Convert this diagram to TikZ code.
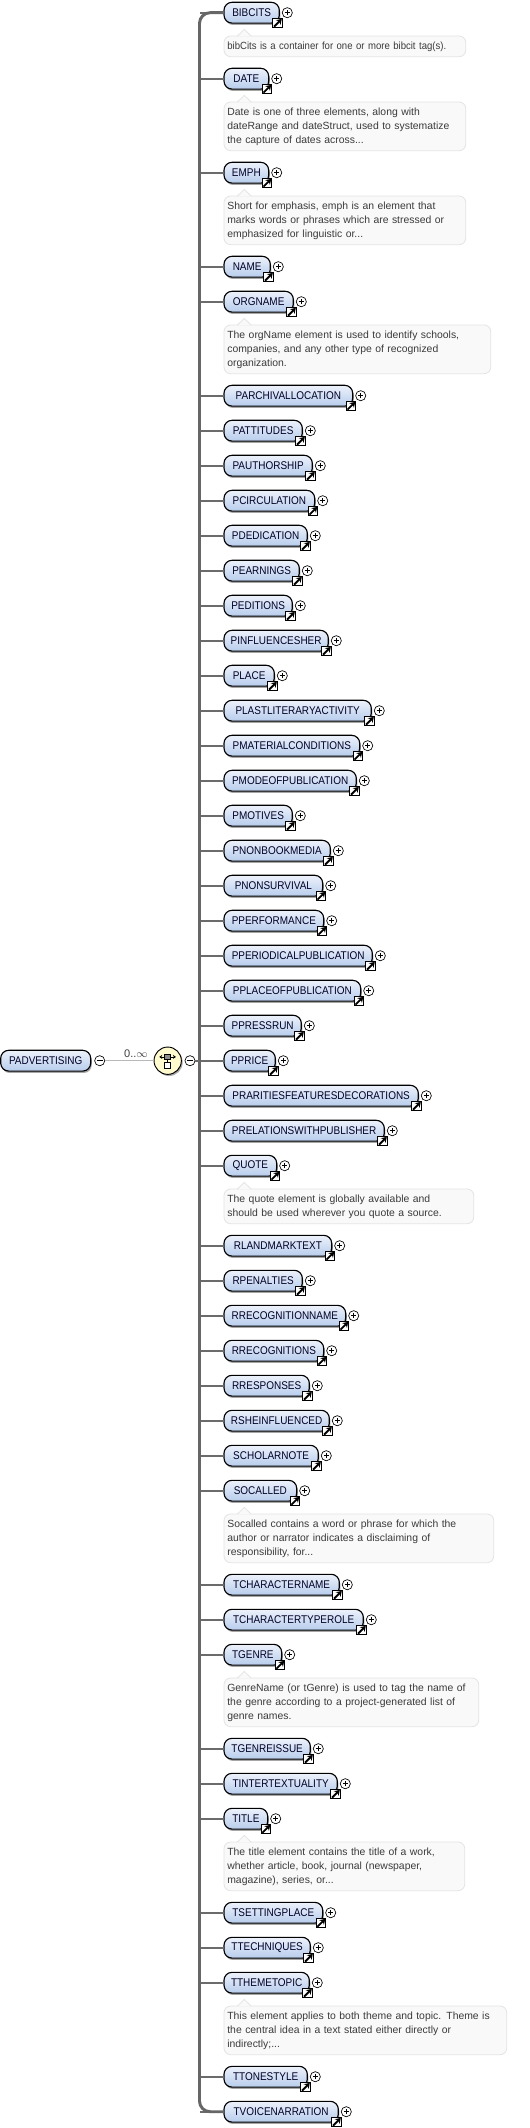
\documentclass[tikz,border=0pt]{standalone}
\usepackage{fontspec}
\setmainfont{Liberation Sans}
\newfontfamily\elemfont[FakeStretch=0.89]{Liberation Sans}
\newfontfamily\narrowfont[FakeStretch=0.92]{Liberation Sans}
\usetikzlibrary{arrows.meta,shadows}
\definecolor{boxtop}{HTML}{EDF2FB}
\definecolor{boxbot}{HTML}{B7CCEC}
\definecolor{docfill}{HTML}{F9F9F9}
\definecolor{docline}{HTML}{E4E4E4}
\definecolor{doctext}{HTML}{3A3A3A}
\definecolor{seqfill}{HTML}{FFFBCF}
\tikzset{
  elembox/.style={draw=black,line width=0.85pt,rounded corners=6pt,top color=boxtop,bottom color=boxbot,
    minimum height=15.6pt,inner sep=0pt,outer sep=0pt,anchor=west,text=black!85!blue,
    font=\elemfont\fontsize{8.4}{10}\selectfont,
    drop shadow={shadow xshift=0.8pt,shadow yshift=-1.4pt,fill=black,opacity=0.35}},
  linkicon/.style={draw=black,line width=0.7pt,fill=white,minimum size=7.2pt,inner sep=0pt},
  linkarrow/.style={line width=1.4pt,-{Stealth[length=3.8pt,width=5pt]}},
  btn/.style={circle,draw=black,line width=0.5pt,fill=white,minimum size=7.6pt,inner sep=0pt},
  plusbtn/.style={btn,path picture={
    \draw[line width=0.5pt] ([xshift=-2pt]path picture bounding box.center)--([xshift=2pt]path picture bounding box.center);
    \draw[line width=0.5pt] ([yshift=-2pt]path picture bounding box.center)--([yshift=2pt]path picture bounding box.center);}},
  minusbtn/.style={btn,path picture={
    \draw[line width=0.5pt] ([xshift=-2.2pt]path picture bounding box.center)--([xshift=2.2pt]path picture bounding box.center);}},
  docbox/.style={draw=docline,fill=docfill,line width=0.6pt,rounded corners=5pt,anchor=north west,
    inner xsep=2.5pt,inner ysep=2.5pt,outer sep=0pt,align=left,text=doctext,
    font=\fontsize{7.8}{10.5}\selectfont,execute at begin node=\strut,execute at end node=\strut},
  branch/.style={draw=black!58,line width=1.5pt},
  trunk/.style={draw=black!60,line width=2.2pt,rounded corners=8pt},
  thinline/.style={draw=black!28,line width=0.7pt},
  seqbox/.style={draw=black,line width=0.5pt,minimum width=4.6pt,minimum height=3.8pt,inner sep=0pt},
}
% name, y, width, label
\newcommand{\elem}[4]{
  \node[elembox,minimum width=#3*0.75pt] (#1) at (224,#2) {#4};
  \node[linkicon] (#1link) at ({224+#3-1.6},{#2+10.3}) {};
  \draw[linkarrow] ([xshift=1.2pt,yshift=1.2pt]#1link.south west)--([xshift=-0.9pt,yshift=-0.9pt]#1link.north east);
  \node[plusbtn] (#1plus) at ({224+#3+8},#2) {};
  \draw[branch] (#1.west)--(#1.west -| trunktop);
}
% name, y of the element, width, text
\newcommand{\docnote}[4]{
  \node[docbox,text width={(#3-6.6)*0.75pt}] (#1doc) at (224,{#2+23.3}) {#4};
  \fill[docfill] (237.5,{#2+23.6})--(244.3,{#2+16.7})--(251,{#2+23.6})--cycle;
  \draw[docline,line width=0.6pt] (237.5,{#2+23.3})--(244.3,{#2+16.7})--(251,{#2+23.3});
}
\begin{document}
\begin{tikzpicture}[x=0.75pt,y=-0.75pt]
  \useasboundingbox (0,0) rectangle (530,2128);
  \fill[white] (0,0) rectangle (530,2128);
  \coordinate (trunktop) at (199.5,12.7);
  \coordinate (trunkbot) at (199.5,2111.7);

  \elem{bibcits}{12.7}{55.3}{BIBCITS}
  \docnote{bibcits}{12.7}{241.7}{\narrowfont bibCits is a container for one or more bibcit tag(s).}
  \elem{date}{78.7}{44.7}{DATE}
  \docnote{date}{78.7}{241.7}{Date is one of three elements, along with\\dateRange and dateStruct, used to systematize\\the capture of dates across...}
  \elem{emph}{172.7}{44.7}{EMPH}
  \docnote{emph}{172.7}{241.7}{Short for emphasis, emph is an element that\\marks words or phrases which are stressed or\\emphasized for linguistic or...}
  \elem{name}{266.7}{46.3}{NAME}
  \elem{orgname}{301.7}{69.3}{ORGNAME}
  \docnote{orgname}{301.7}{266.7}{The orgName element is used to identify schools,\\companies, and any other type of recognized\\organization.}
  \elem{parchival}{395.7}{128.7}{PARCHIVALLOCATION}
  \elem{pattitudes}{430.7}{78.3}{PATTITUDES}
  \elem{pauthorship}{465.7}{88.3}{PAUTHORSHIP}
  \elem{pcirculation}{500.7}{90.7}{PCIRCULATION}
  \elem{pdedication}{535.7}{83.3}{PDEDICATION}
  \elem{pearnings}{570.7}{75.3}{PEARNINGS}
  \elem{peditions}{605.7}{68.3}{PEDITIONS}
  \elem{pinfluences}{640.7}{104.3}{PINFLUENCESHER}
  \elem{place}{675.7}{50.3}{PLACE}
  \elem{plastliterary}{710.7}{147.3}{PLASTLITERARYACTIVITY}
  \elem{pmaterial}{745.7}{135.7}{PMATERIALCONDITIONS}
  \elem{pmode}{780.7}{132.3}{PMODEOFPUBLICATION}
  \elem{pmotives}{815.7}{68.3}{PMOTIVES}
  \elem{pnonbook}{850.7}{106.3}{PNONBOOKMEDIA}
  \elem{pnonsurvival}{885.7}{98.7}{PNONSURVIVAL}
  \elem{pperformance}{920.7}{99.7}{PPERFORMANCE}
  \elem{pperiodical}{955.7}{148.3}{PPERIODICALPUBLICATION}
  \elem{pplaceof}{990.7}{136.7}{PPLACEOFPUBLICATION}
  \elem{ppressrun}{1025.7}{77.3}{PPRESSRUN}
  \elem{pprice}{1060.7}{51.3}{PPRICE}
  \elem{prarities}{1095.7}{194.3}{PRARITIESFEATURESDECORATIONS}
  \elem{prelations}{1130.7}{160.3}{PRELATIONSWITHPUBLISHER}
  \elem{quote}{1165.7}{52.7}{QUOTE}
  \docnote{quote}{1165.7}{249.7}{The quote element is globally available and\\should be used wherever you quote a source.}
  \elem{rlandmark}{1245.7}{107.7}{RLANDMARKTEXT}
  \elem{rpenalties}{1280.7}{78.3}{RPENALTIES}
  \elem{rrecogname}{1315.7}{121.7}{RRECOGNITIONNAME}
  \elem{rrecog}{1350.7}{99.7}{RRECOGNITIONS}
  \elem{rresponses}{1385.7}{85.3}{RRESPONSES}
  \elem{rshe}{1420.7}{105.3}{RSHEINFLUENCED}
  \elem{scholarnote}{1455.7}{94.3}{SCHOLARNOTE}
  \elem{socalled}{1490.7}{72.7}{SOCALLED}
  \docnote{socalled}{1490.7}{269.7}{Socalled contains a word or phrase for which the\\author or narrator indicates a disclaiming of\\responsibility, for...}
  \elem{tcharname}{1584.7}{115.3}{TCHARACTERNAME}
  \elem{tchartype}{1619.7}{139.3}{TCHARACTERTYPEROLE}
  \elem{tgenre}{1654.7}{57.7}{TGENRE}
  \docnote{tgenre}{1654.7}{254.7}{GenreName (or tGenre) is used to tag the name of\\the genre according to a project-generated list of\\genre names.}
  \elem{tgenreissue}{1748.7}{86.3}{TGENREISSUE}
  \elem{tintertext}{1783.7}{113.3}{TINTERTEXTUALITY}
  \elem{ttitle}{1818.7}{43.7}{TITLE}
  \docnote{ttitle}{1818.7}{240.7}{The title element contains the title of a work,\\whether article, book, journal (newspaper,\\magazine), series, or...}
  \elem{tsetting}{1912.7}{98.7}{TSETTINGPLACE}
  \elem{ttechniques}{1947.7}{86.3}{TTECHNIQUES}
  \elem{tthemetopic}{1982.7}{85.3}{TTHEMETOPIC}
  \docnote{tthemetopic}{1982.7}{282.7}{This element applies to both theme and topic. Theme is\\the central idea in a text stated either directly or\\indirectly;...}
  \elem{ttonestyle}{2076.7}{83.3}{TTONESTYLE}
  \elem{tvoice}{2111.7}{114.3}{TVOICENARRATION}

  \draw[trunk] (bibcits.west)--(trunktop)--(trunkbot)--(tvoice.west);

  % left side
  \node[elembox,minimum width=90*0.75pt] (padvertising) at (0.7,1060.7) {PADVERTISING};
  \node[minusbtn] (admin) at (99.7,1060.7) {};
  \node[circle,draw=black,line width=0.7pt,fill=seqfill,minimum size=20.5pt,inner sep=0pt,
    drop shadow={shadow xshift=1pt,shadow yshift=-1.2pt,fill=black,opacity=0.35}] (seq) at (167.7,1060.7) {};
  \node[minusbtn] (seqmin) at (190,1060.7) {};
  \draw[thinline] (admin)--(seq);
  \draw[branch] (seqmin)--(seqmin -| trunktop);
  \node[font=\fontsize{8.3}{10}\selectfont,text=black!75,inner sep=0pt] (card) at (136,1054) {0..$\infty$};
  \coordinate (seqleft) at (159.3,1056.9);
  \coordinate (seqright) at (175.9,1056.9);
  \draw[line width=0.6pt,{Stealth[length=2.2pt,width=3pt]}-{Stealth[length=2.2pt,width=3pt]}] (seqleft)--(seqright);
  \node[seqbox,fill=black!45] (seqtop) at (167.7,1056.9) {};
  \node[seqbox,fill=white] (seqbot) at (167.7,1065.3) {};
  \draw[line width=0.5pt] (seqtop)--(seqbot);
\end{tikzpicture}
\end{document}
